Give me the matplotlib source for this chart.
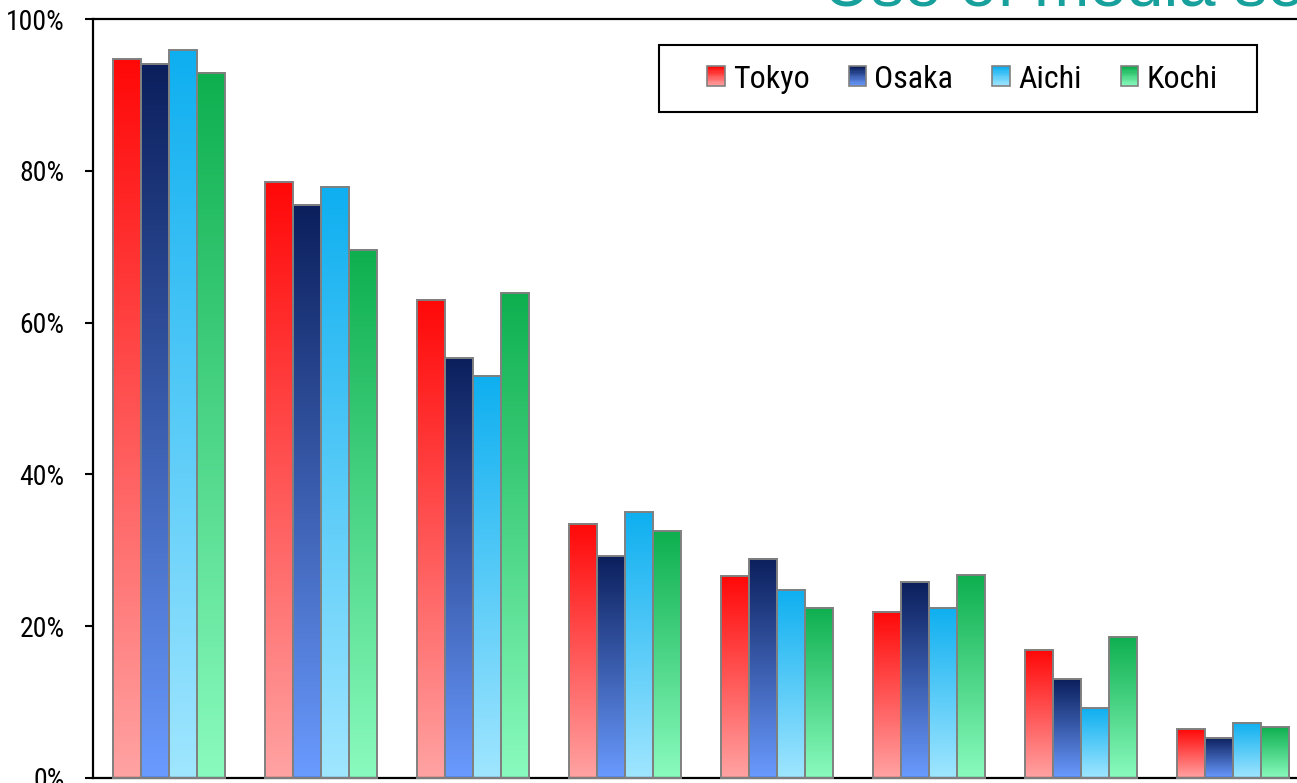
import numpy as np
import matplotlib
matplotlib.use("Agg")
import matplotlib.pyplot as plt
from matplotlib import font_manager as fm
from matplotlib.patches import Rectangle
from matplotlib.legend_handler import HandlerBase
from matplotlib.colors import to_rgb

# ---- data -------------------------------------------------------------
categories = ["1", "2", "3", "4", "5", "6", "7", "8"]
series_names = ["Tokyo", "Osaka", "Aichi", "Kochi"]
tokyo = [94.7, 78.5, 63.0, 33.5, 26.6, 21.9, 16.8, 6.4]
osaka = [94.1, 75.5, 55.3, 29.2, 28.9, 25.8, 13.0, 5.3]
aichi = [95.9, 77.9, 53.0, 35.0, 24.8, 22.4, 9.2, 7.3]
kochi = [92.9, 69.6, 63.9, 32.5, 22.4, 26.7, 18.6, 6.7]
series_values = [tokyo, osaka, aichi, kochi]
y_ticks = [0, 20, 40, 60, 80, 100]
y_tick_labels = ["0%", "20%", "40%", "60%", "80%", "100%"]
title_text = "Use of media services"

# (top colour, bottom colour) of each series gradient
gradients = [
    ("#ff0808", "#ffa3a3"),
    ("#0b1f5c", "#6a9bff"),
    ("#0eaff0", "#a0e6ff"),
    ("#0eaf4f", "#8afbbe"),
]


def pick_family(names):
    for n in names:
        try:
            fm.findfont(fm.FontProperties(family=n), fallback_to_default=False)
            return n
        except ValueError:
            continue
    return None


narrow = pick_family(["Liberation Sans Narrow", "Arial Narrow", "Roboto Condensed"])
if narrow is not None:
    label_font = dict(family=narrow)
else:
    label_font = dict(family="DejaVu Sans", stretch="condensed")
title_family = pick_family(["Liberation Sans", "Arial"]) or "DejaVu Sans"


def ramp(top, bottom, n=256):
    t = np.linspace(0, 1, n)[:, None]
    b = np.array(to_rgb(bottom))[None, :]
    a = np.array(to_rgb(top))[None, :]
    return (b * (1 - t) + a * t)[:, None, :]


class GradientSwatch:
    def __init__(self, top, bottom):
        self.top = top
        self.bottom = bottom


class GradientSwatchHandler(HandlerBase):
    def create_artists(self, legend, orig_handle, xdescent, ydescent,
                       width, height, fontsize, trans):
        n = 16
        cols = ramp(orig_handle.top, orig_handle.bottom, n)[:, 0, :]
        x0, y0 = -xdescent, -ydescent
        arts = []
        for k in range(n):
            r = Rectangle((x0, y0 + height * k / n), width, height / n + 0.3,
                          facecolor=cols[k], edgecolor="none", transform=trans)
            arts.append(r)
        arts.append(Rectangle((x0, y0), width, height, facecolor="none",
                              edgecolor="#808080", linewidth=1.2, transform=trans))
        return arts


W, H = 1297, 783
fig = plt.figure(figsize=(W / 100, H / 100), dpi=100)
fig.patch.set_facecolor("white")


def fx(px):
    return px / W


def fy(py):
    return 1 - py / H


ax_left, ax_right = fx(93), fx(1309)
ax_top, ax_bottom = fy(19), fy(778)
ax = fig.add_axes([ax_left, ax_bottom, ax_right - ax_left, ax_top - ax_bottom])

x = np.arange(len(categories))
bar_w = 28 / 152
offsets = (np.arange(len(series_names)) - (len(series_names) - 1) / 2) * bar_w

for s, vals in enumerate(series_values):
    top, bottom = gradients[s]
    img = ramp(top, bottom)
    for i, v in enumerate(vals):
        x0 = x[i] + offsets[s] - bar_w / 2
        ax.imshow(img, extent=(x0, x0 + bar_w, 0, v), origin="lower",
                  aspect="auto", interpolation="bilinear", zorder=2)
        ax.add_patch(Rectangle((x0, 0), bar_w, v, facecolor="none",
                               edgecolor="#808080", linewidth=1.4, zorder=3,
                               clip_on=False))

ax.set_xlim(-0.5, len(categories) - 0.5)
ax.set_ylim(0, 100)
ax.set_xticks([])
ax.set_yticks(y_ticks)
ax.set_yticklabels(y_tick_labels, fontsize=20, **label_font)
ax.tick_params(axis="y", direction="out", length=5.5, width=1.5, pad=15, color="black")
for side in ["left", "top", "bottom", "right"]:
    ax.spines[side].set_linewidth(1.6)
    ax.spines[side].set_color("black")

# legend entries, with a plain square frame around them
handles = [GradientSwatch(t, b) for t, b in gradients]
leg = fig.legend(handles, series_names, handler_map={GradientSwatch: GradientSwatchHandler()},
                 ncol=4, loc="center left", bbox_to_anchor=(fx(707), fy(79)),
                 frameon=False, borderpad=0, borderaxespad=0,
                 handlelength=0.55, handleheight=0.56, handletextpad=0.26,
                 columnspacing=1.22,
                 prop=fm.FontProperties(size=23, **label_font))
fig.add_artist(Rectangle((fx(659), fy(112)), fx(1257) - fx(659), fy(45) - fy(112),
                         transform=fig.transFigure, facecolor="none",
                         edgecolor="black", linewidth=1.5, zorder=5))

fig.text(fx(823), fy(5), title_text, fontsize=48, color="#17a09c",
         family=title_family, ha="left", va="baseline")

fig.savefig("out.png", dpi=100, facecolor="white")
